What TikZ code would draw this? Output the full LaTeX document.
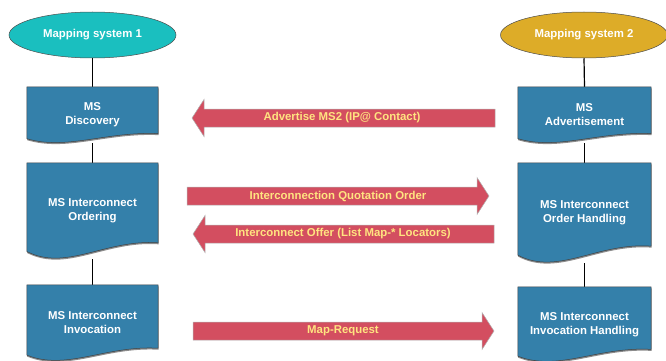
\documentclass[tikz,border=0pt]{standalone}
\usepackage{fontspec}
\setmainfont{Liberation Sans}
\usetikzlibrary{shapes.geometric,calc,backgrounds,shadows}
\definecolor{msblue}{RGB}{52,128,170}
\definecolor{msteal}{RGB}{26,191,191}
\definecolor{msgold}{RGB}{221,172,40}
\definecolor{msred}{RGB}{211,78,96}
\definecolor{msyellow}{RGB}{255,228,128}
\newcommand\msfont{\fontsize{11.4}{14}\selectfont\bfseries}
\newcommand\docshape[1]{%
\path[docfill] let \p1=(#1.north west), \p2=(#1.south east) in
  (\p1) -- (\x2,\y1) -- (\x2,{\y1+0.83*(\y2-\y1)})
  .. controls ({\x1+0.6*(\x2-\x1)},{\y1+0.79*(\y2-\y1)}) and ({\x1+0.3*(\x2-\x1)},{\y1+1.13*(\y2-\y1)}) ..
  (\x1,{\y1+0.92*(\y2-\y1)}) -- cycle;}
\tikzset{
  sys/.style={ellipse,draw=black!70,line width=0.5pt,minimum width=167pt,minimum height=46pt,text=white,font=\msfont},
  task/.style={rectangle,text=white,align=center,font=\msfont,inner sep=0pt},
  docfill/.style={fill=msblue,draw=black!75,line width=0.5pt,drop shadow={shadow xshift=0.3pt,shadow yshift=-1.5pt,opacity=0.45,fill=black}},
  flow/.style={fill=msred,draw=black!30,line width=0.5pt},
  flowtext/.style={text=msyellow,font=\msfont,inner sep=0pt}
}
\begin{document}
\begin{tikzpicture}[x=1pt,y=-1pt]
\useasboundingbox (0,0) rectangle (666,361);

\node[sys,fill=msteal] (ms1) at (92.5,35) {Mapping system 1};
\node[sys,fill=msgold] (ms2) at (584,35) {Mapping system 2};

\node[task,minimum width=131pt,minimum height=56pt] (disc) at (92.5,115) {MS\\Discovery};
\node[task,minimum width=131pt,minimum height=96pt] (order) at (92.5,211) {MS Interconnect\\Ordering};
\node[task,minimum width=131pt,minimum height=76pt] (invoc) at (92.5,323) {MS Interconnect\\Invocation};
\node[task,minimum width=133pt,minimum height=56pt] (advert) at (584.5,115) {MS\\Advertisement};
\node[task,minimum width=133pt,minimum height=100pt] (handle) at (584.5,213) {MS Interconnect\\Order Handling};
\node[task,minimum width=133pt,minimum height=75pt] (invhandle) at (584.5,324.5) {MS Interconnect\\Invocation Handling};

\begin{scope}[on background layer]
\path[draw,line width=1.2pt] (ms1.south) -- (disc.north);
\path[draw,line width=1.2pt] (disc.south) -- (order.north);
\path[draw,line width=1.2pt] (order.south) -- (invoc.north);
\path[draw,line width=1.2pt] (ms2.south) -- (advert.north);
\path[draw,line width=1.2pt] (advert.south) -- (handle.north);
\path[draw,line width=1.2pt] (handle.south) -- (invhandle.north);
\foreach \task in {disc,order,invoc,advert,handle,invhandle} \docshape{\task};
\end{scope}

\foreach \y/\xa/\xb in {118/192/495,234/193/494}
  \path[flow] (\xa,\y) -- (\xa+12,\y-18.5) -- (\xa+12,\y-9) -- (\xb,\y-9) -- (\xb,\y+9) -- (\xa+12,\y+9) -- (\xa+12,\y+18.5) -- cycle;
\foreach \y/\xa/\xb in {196/187/489,331/193/494}
  \path[flow] (\xb,\y) -- (\xb-12,\y-18.5) -- (\xb-12,\y-9) -- (\xa,\y-9) -- (\xa,\y+9) -- (\xb-12,\y+9) -- (\xb-12,\y+18.5) -- cycle;

\node[flowtext] (adv) at (342,118) {Advertise MS2 (IP@ Contact)};
\node[flowtext] (quot) at (338,196) {Interconnection Quotation Order};
\node[flowtext] (offer) at (343,234) {Interconnect Offer (List Map-* Locators)};
\node[flowtext] (req) at (343,331) {Map-Request};
\end{tikzpicture}
\end{document}
